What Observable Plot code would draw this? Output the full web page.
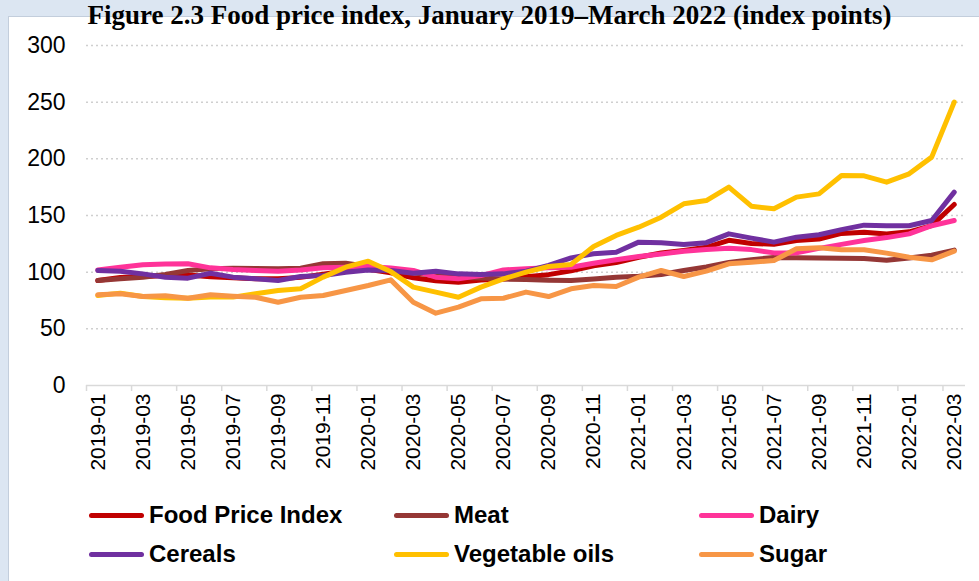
<!DOCTYPE html>
<html>
<head>
<meta charset="utf-8">
<script src="https://cdn.jsdelivr.net/npm/d3@7"></script>
<script src="https://cdn.jsdelivr.net/npm/@observablehq/plot@0.6"></script>
<style>
html, body { margin: 0; padding: 0; }
body { width: 979px; height: 581px; background: #DCE6F2; position: relative; overflow: hidden; font-family: "Liberation Sans", Arial, sans-serif; }
#panel { position: absolute; left: 8px; top: 16px; width: 971px; height: 565px; background: #fff; border-left: 1px solid #C3CEDC; border-top: 1px solid #C3CEDC; box-sizing: border-box; }
#title { position: absolute; left: 0; width: 979px; text-align: center; font-family: "Liberation Serif", "Times New Roman", serif; font-weight: bold; font-size: 27px; line-height: 24px; top: 3px; white-space: nowrap; color: #000; z-index: 3; }
#chart { position: absolute; left: 0; top: 0; z-index: 1; }
.li { position: absolute; height: 30px; display: flex; align-items: center; font-weight: bold; font-size: 24px; color: #000; white-space: nowrap; z-index: 2; }
.sw { width: 55px; height: 5px; border-radius: 3px; margin-right: 5px; flex: none; }
</style>
</head>
<body>
<div id="panel"></div>
<div id="title">Figure 2.3 Food price index, January 2019–March 2022 (index points)</div>
<div id="chart"></div>
<div id="legend"></div>
<script>
const months = ["2019-01","2019-02","2019-03","2019-04","2019-05","2019-06","2019-07","2019-08","2019-09","2019-10","2019-11","2019-12",
  "2020-01","2020-02","2020-03","2020-04","2020-05","2020-06","2020-07","2020-08","2020-09","2020-10","2020-11","2020-12",
  "2021-01","2021-02","2021-03","2021-04","2021-05","2021-06","2021-07","2021-08","2021-09","2021-10","2021-11","2021-12",
  "2022-01","2022-02","2022-03"];

const foodPriceIndex = [92.6, 95.3, 96.1, 97.0, 97.4, 95.9, 95.1, 94.1, 94.1, 95.4, 98.1, 101.0,
  102.5, 99.4, 95.1, 92.5, 91.0, 93.1, 94.0, 95.9, 97.8, 101.2, 105.7, 108.5,
  113.2, 116.9, 119.2, 121.9, 128.1, 125.3, 124.6, 128.0, 129.2, 134.2, 135.3, 133.7,
  135.6, 141.1, 159.7];
const meat = [92.6, 94.1, 95.6, 98.0, 101.5, 103.0, 103.4, 103.2, 103.0, 103.5, 107.4, 107.9,
  105.0, 101.5, 99.2, 97.3, 95.6, 94.9, 93.9, 93.6, 92.9, 92.6, 94.0, 95.6,
  96.5, 98.0, 101.5, 104.5, 108.5, 111.0, 113.0, 112.8, 112.5, 112.2, 112.0, 110.5,
  112.5, 115.0, 119.5];
const dairy = [102.0, 104.4, 106.5, 107.2, 107.4, 103.8, 102.4, 101.5, 100.9, 102.0, 103.8, 104.4,
  105.0, 103.7, 101.5, 95.6, 94.1, 97.0, 102.0, 103.0, 103.8, 104.4, 107.9, 110.9,
  113.8, 116.0, 118.5, 120.0, 121.0, 119.9, 117.0, 117.0, 121.0, 124.5, 128.0, 130.5,
  133.8, 141.0, 145.6];
const cereals = [101.5, 100.9, 98.5, 95.6, 94.7, 99.1, 95.6, 94.1, 92.6, 96.2, 97.0, 100.0,
  102.0, 101.5, 99.1, 100.9, 98.5, 97.9, 98.5, 100.9, 105.9, 112.6, 116.2, 117.6,
  126.5, 126.0, 124.4, 126.0, 133.8, 130.0, 126.5, 130.9, 133.0, 137.5, 141.5, 141.0,
  141.0, 145.6, 170.6];
const vegetableOils = [79.4, 81.5, 78.5, 77.5, 77.0, 78.0, 78.0, 81.0, 83.8, 85.3, 95.6, 104.4,
  109.7, 100.5, 86.8, 82.4, 77.9, 86.8, 94.1, 100.0, 105.0, 106.8, 122.6, 132.4,
  139.7, 148.5, 160.3, 163.2, 175.0, 158.2, 155.9, 166.2, 169.1, 185.3, 185.0, 179.4,
  186.8, 201.5, 250.0];
const sugar = [80.0, 80.9, 78.5, 79.1, 77.0, 80.0, 78.8, 77.9, 73.5, 77.9, 79.4, 83.8,
  88.2, 93.2, 73.5, 63.8, 69.1, 76.5, 77.0, 82.4, 78.5, 85.3, 88.2, 87.4,
  95.6, 101.5, 96.2, 100.9, 107.4, 108.8, 110.3, 120.6, 121.5, 119.7, 119.7, 116.8,
  113.2, 110.9, 118.5];

const seriesNames = ["Food Price Index", "Meat", "Dairy", "Cereals", "Vegetable oils", "Sugar"];
const seriesColors = ["#C00000", "#953735", "#FF3399", "#7030A0", "#FFC000", "#F79646"];
const seriesValues = [foodPriceIndex, meat, dairy, cereals, vegetableOils, sugar];
const yTicks = [0, 50, 100, 150, 200, 250, 300];

const data = seriesNames.flatMap((name, s) =>
  seriesValues[s].map((v, i) => ({series: name, i, month: months[i], value: v})));

const labelIdx = months.map((m, i) => i).filter(i => i % 2 === 0);
const boundaryIdx = labelIdx.map(i => i - 0.5);

const chart = Plot.plot({
  width: 979,
  height: 480,
  marginLeft: 86,
  marginRight: 14,
  marginTop: 45,
  marginBottom: 95,
  style: {background: "transparent", fontFamily: "'Liberation Sans', Arial, sans-serif", overflow: "visible"},
  x: {type: "linear", domain: [-0.5, months.length - 0.5]},
  y: {domain: [0, 300]},
  color: {domain: seriesNames, range: seriesColors},
  marks: [
    Plot.gridY(yTicks.filter(t => t > 0), {stroke: "#CFCFCF", strokeOpacity: 1, strokeDasharray: "2,3", strokeWidth: 1.5}),
    Plot.ruleY([0], {stroke: "#D9D9D9", strokeWidth: 1.5}),
    Plot.axisY(yTicks, {tickSize: 0, tickPadding: 21, fontSize: 23, fill: "#000", label: null}),
    Plot.axisX(boundaryIdx, {tickSize: 6, stroke: "#D9D9D9", strokeWidth: 1.5, tickFormat: () => "", label: null}),
    Plot.axisX(labelIdx, {tickSize: 0, tickPadding: 8, tickRotate: -90, tickFormat: i => months[i], fontSize: 21, fill: "#000", label: null}),
    Plot.line(data, {x: "i", y: "value", z: "series", stroke: "series", strokeWidth: 5, strokeLinejoin: "round", strokeLinecap: "round"})
  ]
});
document.getElementById("chart").appendChild(chart);

const legend = document.getElementById("legend");
const legendCols = [89, 394, 699];
const legendRows = [500, 539];
seriesNames.forEach((name, s) => {
  const item = document.createElement("div");
  item.className = "li";
  item.style.left = legendCols[s % 3] + "px";
  item.style.top = legendRows[Math.floor(s / 3)] + "px";
  const sw = document.createElement("span");
  sw.className = "sw";
  sw.style.background = seriesColors[s];
  item.appendChild(sw);
  item.appendChild(document.createTextNode(name));
  legend.appendChild(item);
});
</script>
</body>
</html>
